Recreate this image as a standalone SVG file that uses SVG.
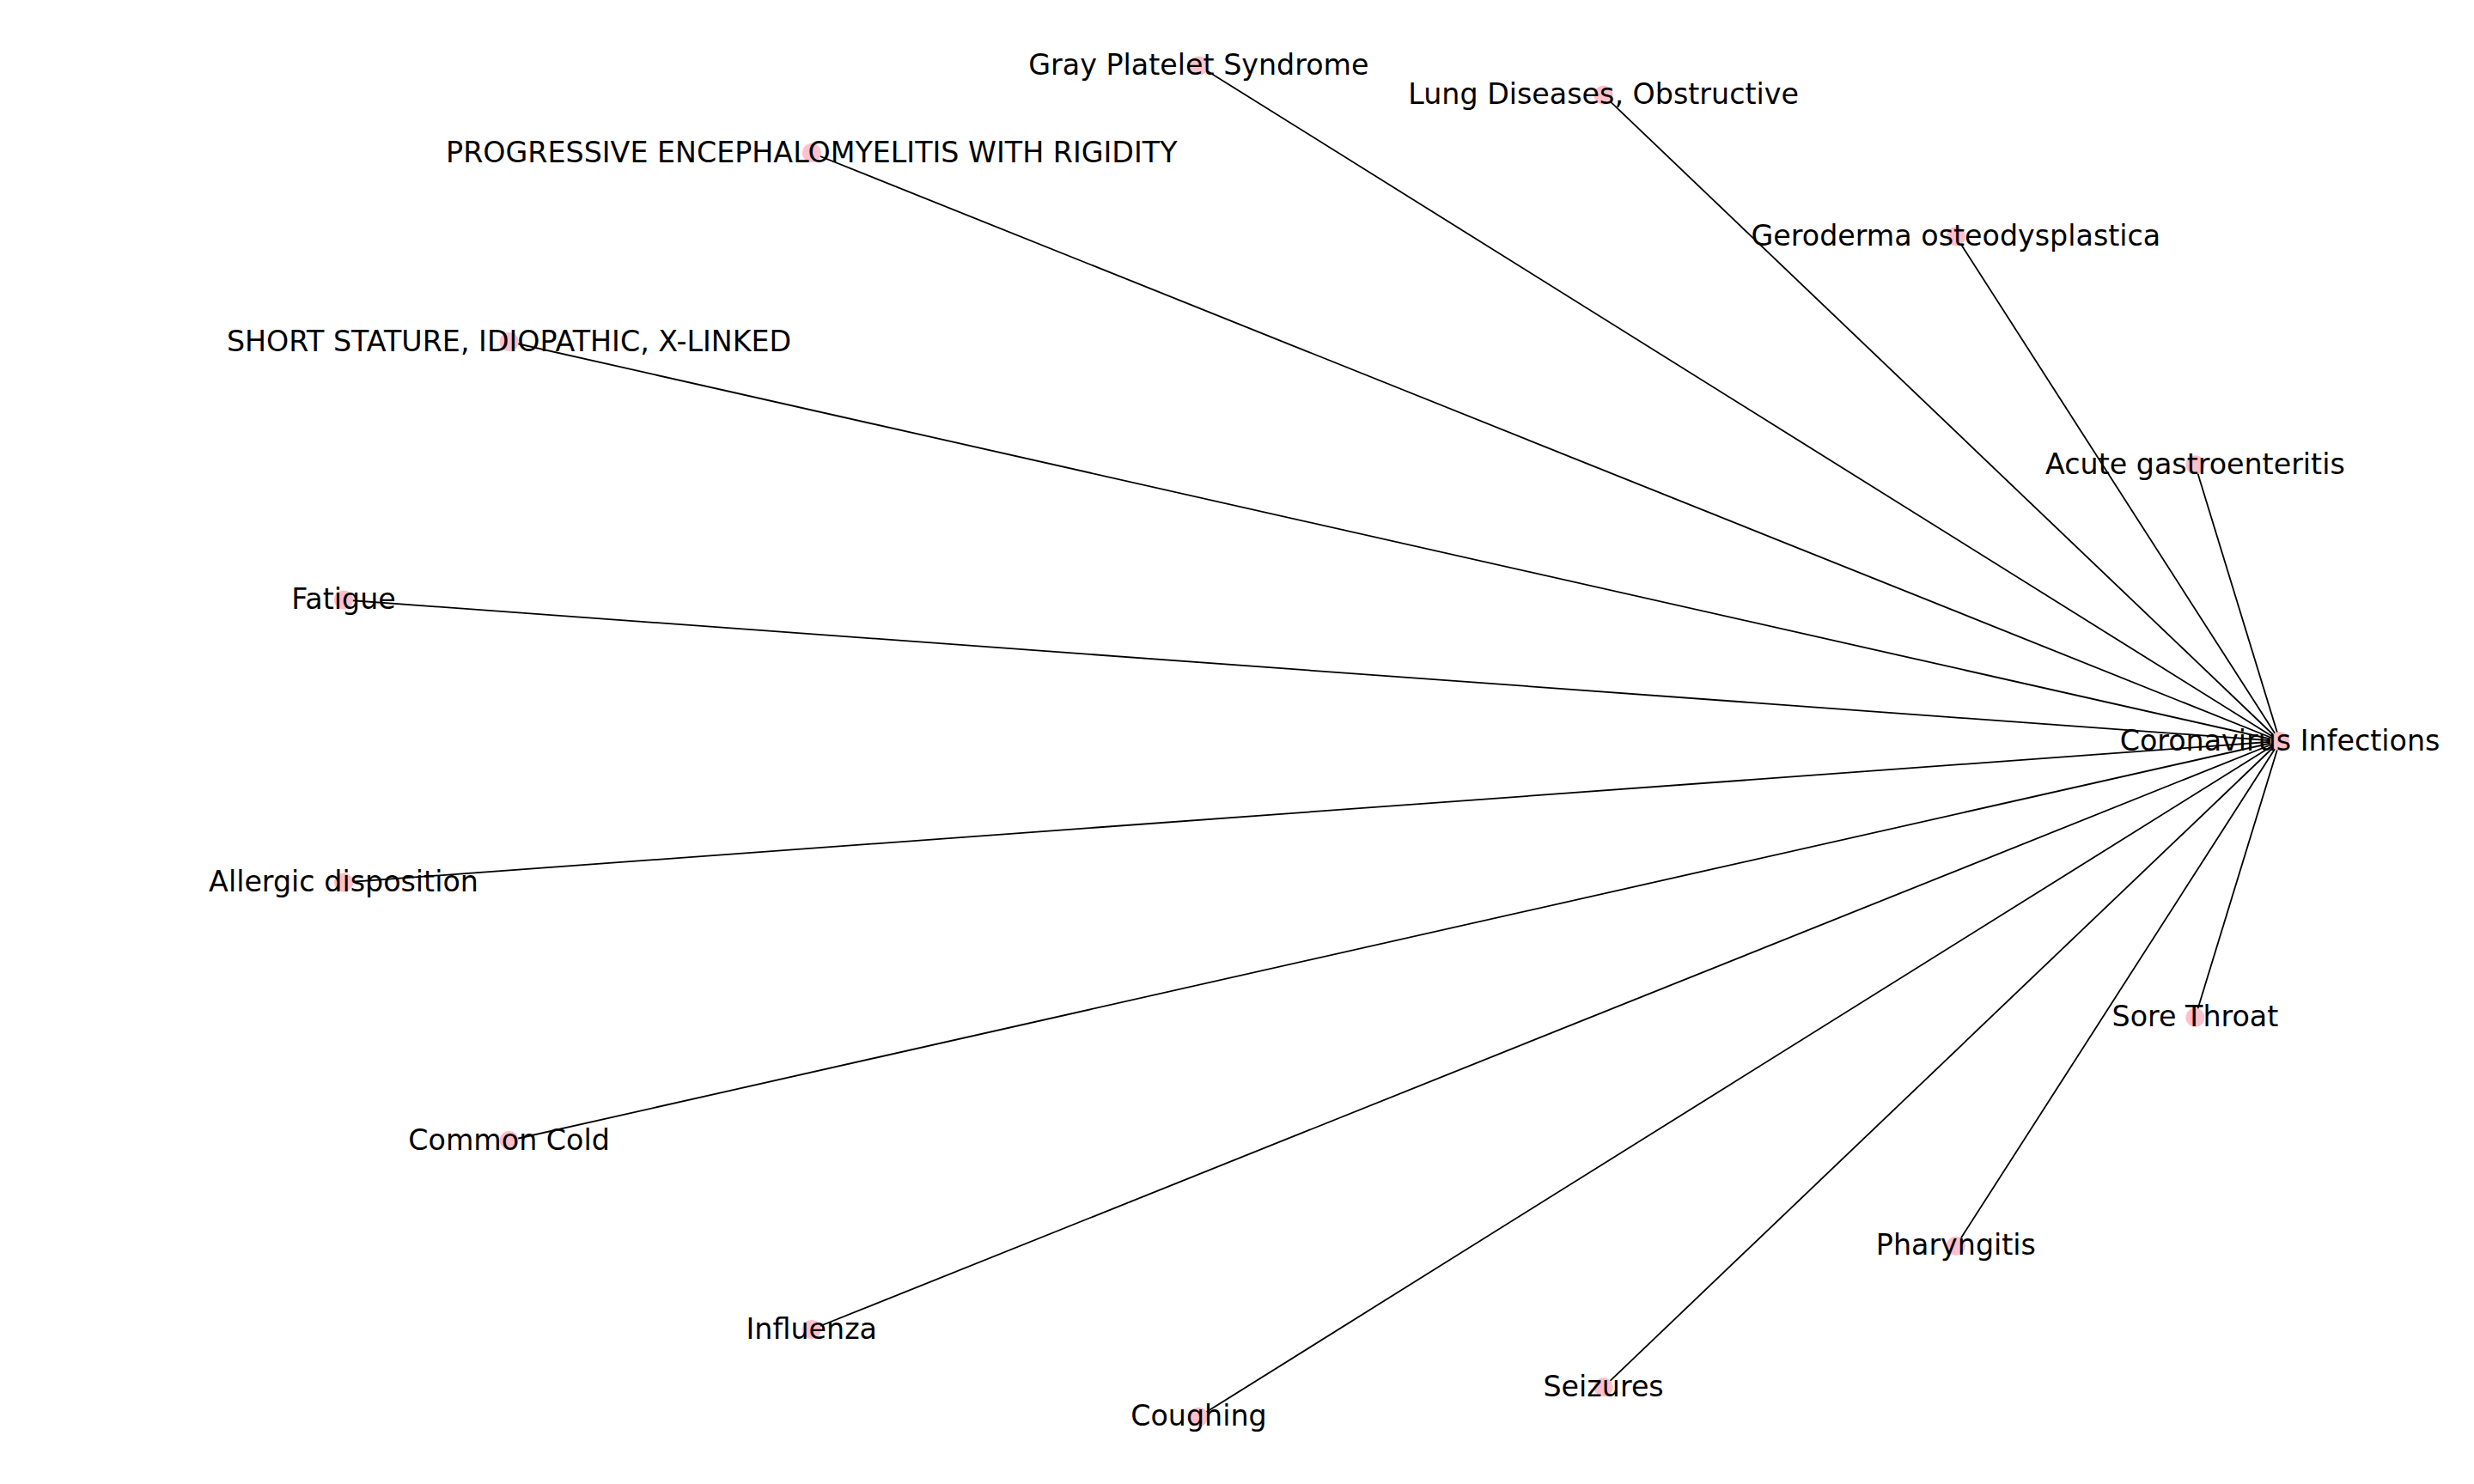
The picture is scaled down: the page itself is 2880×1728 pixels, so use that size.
<svg xmlns="http://www.w3.org/2000/svg" width="2880" height="1728" viewBox="0 0 2880 1728">
<style>
.e{stroke:#000;stroke-width:1.8;fill:none}
.n{fill:#ffc0cb}
.t{font-family:"DejaVu Sans",sans-serif;font-size:33.3px;fill:#000;text-anchor:middle}
</style>
<rect width="2880" height="1728" fill="#fff"/>
<g id="edges">
<line class="e" x1="2654" y1="863" x2="2555.4" y2="541.3"/>
<line class="e" x1="2654" y1="863" x2="2276.9" y2="275.2"/>
<line class="e" x1="2654" y1="863" x2="1866.6" y2="110.7"/>
<line class="e" x1="2654" y1="863" x2="1395.4" y2="76.4"/>
<line class="e" x1="2654" y1="863" x2="944.8" y2="178"/>
<line class="e" x1="2654" y1="863" x2="592.6" y2="398"/>
<line class="e" x1="2654" y1="863" x2="400" y2="698.5"/>
<line class="e" x1="2654" y1="863" x2="400" y2="1027.5"/>
<line class="e" x1="2654" y1="863" x2="592.6" y2="1328"/>
<line class="e" x1="2654" y1="863" x2="944.8" y2="1548"/>
<line class="e" x1="2654" y1="863" x2="1395.4" y2="1649.7"/>
<line class="e" x1="2654" y1="863" x2="1866.6" y2="1615.3"/>
<line class="e" x1="2654" y1="863" x2="2276.9" y2="1450.8"/>
<line class="e" x1="2654" y1="863" x2="2555.4" y2="1184.7"/>
</g>
<g id="n0"><circle class="n" cx="2654" cy="863" r="11"/><text class="t" x="2654" y="873.5">Coronavirus Infections</text></g>
<g id="n1"><circle class="n" cx="2555.4" cy="541.3" r="11"/><text class="t" x="2555.4" y="551.8">Acute gastroenteritis</text></g>
<g id="n2"><circle class="n" cx="2276.9" cy="275.2" r="11"/><text class="t" x="2276.9" y="285.7">Geroderma osteodysplastica</text></g>
<g id="n3"><circle class="n" cx="1866.6" cy="110.7" r="11"/><text class="t" x="1866.6" y="121.2">Lung Diseases, Obstructive</text></g>
<g id="n4"><circle class="n" cx="1395.4" cy="76.4" r="11"/><text class="t" x="1395.4" y="86.9">Gray Platelet Syndrome</text></g>
<g id="n5"><circle class="n" cx="944.8" cy="178" r="11"/><text class="t" x="944.8" y="188.5">PROGRESSIVE ENCEPHALOMYELITIS WITH RIGIDITY</text></g>
<g id="n6"><circle class="n" cx="592.6" cy="398" r="11"/><text class="t" x="592.6" y="408.5">SHORT STATURE, IDIOPATHIC, X-LINKED</text></g>
<g id="n7"><circle class="n" cx="400" cy="698.5" r="11"/><text class="t" x="400" y="709">Fatigue</text></g>
<g id="n8"><circle class="n" cx="400" cy="1027.5" r="11"/><text class="t" x="400" y="1038">Allergic disposition</text></g>
<g id="n9"><circle class="n" cx="592.6" cy="1328" r="11"/><text class="t" x="592.6" y="1338.5">Common Cold</text></g>
<g id="n10"><circle class="n" cx="944.8" cy="1548" r="11"/><text class="t" x="944.8" y="1558.5">Influenza</text></g>
<g id="n11"><circle class="n" cx="1395.4" cy="1649.7" r="11"/><text class="t" x="1395.4" y="1660.2">Coughing</text></g>
<g id="n12"><circle class="n" cx="1866.6" cy="1615.3" r="11"/><text class="t" x="1866.6" y="1625.8">Seizures</text></g>
<g id="n13"><circle class="n" cx="2276.9" cy="1450.8" r="11"/><text class="t" x="2276.9" y="1461.3">Pharyngitis</text></g>
<g id="n14"><circle class="n" cx="2555.4" cy="1184.7" r="11"/><text class="t" x="2555.4" y="1195.2">Sore Throat</text></g>
</svg>
